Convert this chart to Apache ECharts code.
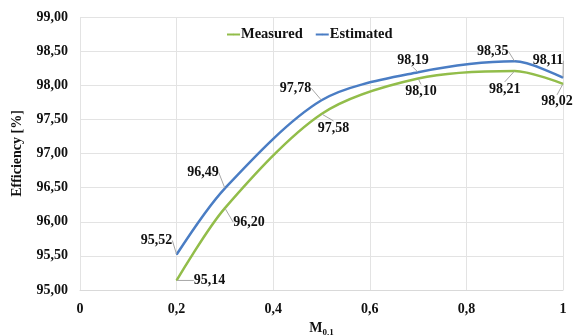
<!DOCTYPE html>
<html>
<head>
<meta charset="utf-8">
<script src="https://cdn.jsdelivr.net/npm/echarts@6/dist/echarts.min.js"></script>
<style>
  html, body { margin: 0; padding: 0; background: #fff; }
  #chart { width: 574px; height: 335px; }
</style>
</head>
<body>
<div id="chart"></div>
<script>
// Modulation index samples and efficiency values (%)
const mIndex = [0.2, 0.3, 0.5, 0.7, 0.9, 1.0];
const measured = [95.14, 96.20, 97.58, 98.10, 98.21, 98.02];
const estimated = [95.52, 96.49, 97.78, 98.19, 98.35, 98.11];
const yTicks = { min: 95, max: 99, step: 0.5 };

// Label nudges (px) so each value sits beside its curve with a leader line
const measuredLabelShift = [[33, 0], [24, 14], [12, 14], [3, 13], [-10, 18], [-6, 18]];
const estimatedLabelShift = [[-20, -14], [-22, -16], [-26, -12], [-5, -12], [-22, -10], [-15, -17]];

const FONT = '"Liberation Serif", "Times New Roman", serif';
const fmtComma = (v, d) => v.toFixed(d).replace('.', ',');

function pairs(xs, ys) { return xs.map((x, i) => [x, ys[i]]); }

function lineSeries(name, values, color, shifts) {
  return {
    name: name,
    type: 'line',
    data: pairs(mIndex, values),
    smooth: 0.3,
    symbol: 'circle',
    symbolSize: 1,
    showSymbol: true,
    lineStyle: { color: color, width: 2.5 },
    itemStyle: { color: color },
    label: {
      show: true,
      position: 'inside',
      fontFamily: FONT,
      fontWeight: 'bold',
      fontSize: 14,
      color: '#111',
      formatter: p => fmtComma(p.value[1], 2)
    },
    labelLine: { show: true, lineStyle: { color: '#a6a6a6', width: 1 } },
    labelLayout: p => ({ dx: shifts[p.dataIndex][0], dy: shifts[p.dataIndex][1], hideOverlap: false })
  };
}

const chart = echarts.init(document.getElementById('chart'), null, { renderer: 'canvas' });
chart.setOption({
  animation: false,
  backgroundColor: '#fff',
  textStyle: { fontFamily: FONT },
  grid: { left: 80, right: 11, top: 17, bottom: 45, outerBoundsMode: 'none', containLabel: false },
  legend: {
    top: 22,
    left: 221,
    itemWidth: 13,
    itemHeight: 2,
    itemGap: 12,
    textStyle: {
      fontFamily: FONT, fontWeight: 'bold', fontSize: 14.5, color: '#111',
      padding: [0, 0, 0, -4]
    },
    data: ['Measured', 'Estimated']
  },
  xAxis: {
    type: 'value',
    min: 0, max: 1, interval: 0.2,
    name: '{m|M}{s|0,1}',
    nameLocation: 'middle',
    nameGap: 29,
    nameTextStyle: {
      rich: {
        m: { fontFamily: FONT, fontWeight: 'bold', fontSize: 14, color: '#111' },
        s: { fontFamily: FONT, fontWeight: 'bold', fontSize: 9, color: '#111', padding: [9, 0, 0, 0] }
      }
    },
    axisLine: { show: true, lineStyle: { color: '#d9d9d9' } },
    axisTick: { show: false },
    splitLine: { show: true, lineStyle: { color: '#e3e3e3' } },
    axisLabel: {
      margin: 12,
      fontFamily: FONT, fontWeight: 'bold', fontSize: 14, color: '#111',
      formatter: v => (v === 0 || v === 1) ? String(v) : fmtComma(v, 1)
    }
  },
  yAxis: {
    type: 'value',
    min: yTicks.min, max: yTicks.max, interval: yTicks.step,
    name: 'Efficiency [%]',
    nameLocation: 'middle',
    nameGap: 56,
    nameTextStyle: { fontFamily: FONT, fontWeight: 'bold', fontSize: 14, color: '#111' },
    axisLine: { show: false },
    axisTick: { show: false },
    splitLine: { show: true, lineStyle: { color: '#e3e3e3' } },
    axisLabel: {
      margin: 12,
      fontFamily: FONT, fontWeight: 'bold', fontSize: 14, color: '#111',
      formatter: v => fmtComma(v, 2)
    }
  },
  series: [
    lineSeries('Measured', measured, '#92bd4a', measuredLabelShift),
    lineSeries('Estimated', estimated, '#4a7dc4', estimatedLabelShift)
  ]
});
</script>
</body>
</html>
